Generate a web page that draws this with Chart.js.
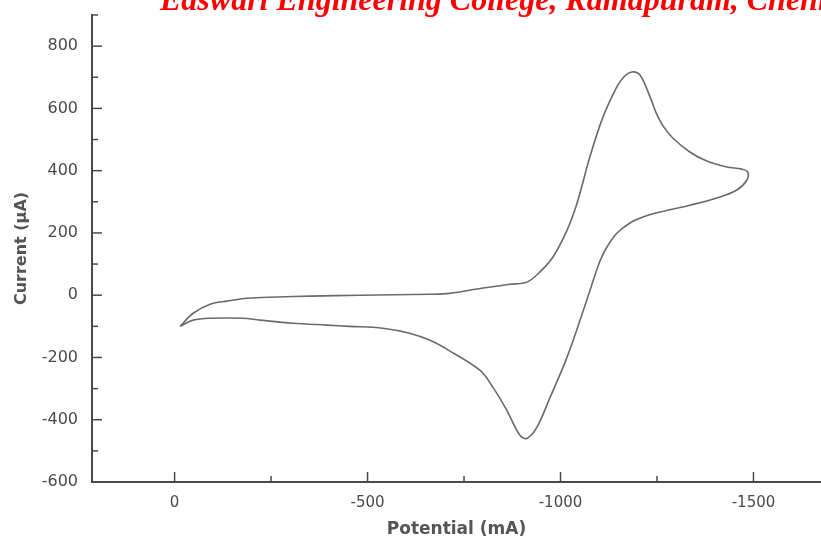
<!DOCTYPE html>
<html><head><meta charset="utf-8">
<script src="https://cdn.jsdelivr.net/npm/chart.js@4.4.1/dist/chart.umd.min.js"></script>
<style>html,body{margin:0;padding:0;background:#fff;overflow:hidden}</style>
</head><body>
<canvas id="c" width="821" height="544"></canvas>
<script>
const TITLE = 'Easwari Engineering College, Ramapuram, Chennai';
const X_TITLE = 'Potential (mA)';
const Y_TITLE = 'Current (\u00B5A)';

// Cyclic voltammogram, points in scan order
const potential = [-14,-48,-92,-136,-188,-266,-351,-481,-662,-713,-799,-869,-913,-946,-980,-1017,-1043,-1076,-1110,-1146,-1164,-1185,-1206,-1232,-1247,-1266,-1291,-1335,-1379,-1431,-1470,-1485,-1483,-1457,-1405,-1335,-1258,-1214,-1180,-1146,-1120,-1102,-1068,-1017,-973,-939,-913,-895,-861,-825,-791,-706,-662,-609,-539,-454,-395,-307,-221,-177,-92,-48,-14];
const current   = [-100,-58,-29,-19,-10,-6,-3,0,3,6,23,35,42,74,122,209,296,444,572,669,701,717,707,637,588,543,505,460,431,412,405,396,370,338,312,289,267,251,232,199,154,109,-16,-199,-328,-424,-460,-450,-370,-296,-241,-174,-145,-122,-106,-100,-96,-90,-80,-74,-74,-80,-100];

const xTicks = [0,-250,-500,-750,-1000,-1250,-1500];
const xLabeled = [0,-500,-1000,-1500];
const yTicks = [-600,-500,-400,-300,-200,-100,0,100,200,300,400,500,600,700,800,900];
const yLabeled = [-600,-400,-200,0,200,400,600,800];

const points = potential.map((p,i)=>({x:p,y:current[i]}));
const AXIS = '#4a4a4a';

const extras = {
  id:'extras',
  afterDraw(chart){
    const {ctx, chartArea:a, scales:{x,y}} = chart;
    ctx.save();
    ctx.strokeStyle = AXIS; ctx.lineWidth = 1.5;
    x.ticks.forEach(t=>{
      const px = x.getPixelForValue(t.value);
      const len = xLabeled.includes(t.value) ? 10 : 6;
      ctx.beginPath(); ctx.moveTo(px,a.bottom); ctx.lineTo(px,a.bottom-len); ctx.stroke();
    });
    y.ticks.forEach(t=>{
      const py = y.getPixelForValue(t.value);
      const len = yLabeled.includes(t.value) ? 10 : 6;
      ctx.beginPath(); ctx.moveTo(a.left,py); ctx.lineTo(a.left+len,py); ctx.stroke();
    });
    ctx.fillStyle = '#ff0000';
    ctx.font = 'bold italic 32px "Liberation Serif", "Times New Roman", serif';
    ctx.textBaseline = 'alphabetic';
    ctx.textAlign = 'left';
    ctx.fillText(TITLE, 160, 10);
    ctx.restore();
  }
};

new Chart(document.getElementById('c'), {
  type:'scatter',
  data:{datasets:[{
    data:points, showLine:true, borderColor:'#6a6a6a', borderWidth:1.6,
    pointRadius:0, tension:0.35, fill:false
  }]},
  options:{
    responsive:false, devicePixelRatio:1, animation:false,
    layout:{padding:{top:15,right:0,left:0,bottom:0}},
    plugins:{legend:{display:false}, tooltip:{enabled:false}},
    scales:{
      x:{
        type:'linear', min:-1675, max:214, reverse:true,
        afterBuildTicks:s=>{ s.ticks = xTicks.map(v=>({value:v})); },
        afterFit:s=>{ s.height = 62; s.paddingLeft = 0; s.paddingRight = 0; },
        grid:{display:false, drawTicks:false},
        border:{display:true, color:AXIS, width:2},
        ticks:{autoSkip:false, maxRotation:0, padding:12, color:'#4a4a4a',
          font:{family:'"DejaVu Sans"', size:15},
          callback:v=> xLabeled.includes(v) ? String(v) : ''},
        title:{display:true, text:X_TITLE, color:'#555',
          font:{family:'"DejaVu Sans"', size:17, weight:'bold'}, padding:{top:0,bottom:4}}
      },
      y:{
        type:'linear', min:-600, max:900,
        afterBuildTicks:s=>{ s.ticks = yTicks.map(v=>({value:v})); },
        afterFit:s=>{ s.width = 92; s.paddingTop = 0; s.paddingBottom = 0; },
        grid:{display:false, drawTicks:false},
        border:{display:true, color:AXIS, width:2},
        ticks:{autoSkip:false, padding:14, color:'#4a4a4a',
          font:{family:'"DejaVu Sans"', size:16},
          callback:v=> yLabeled.includes(v) ? String(v) : ''},
        title:{display:true, text:Y_TITLE, color:'#555',
          font:{family:'"DejaVu Sans"', size:16, weight:'bold'}, padding:{top:12,bottom:0}}
      }
    }
  },
  plugins:[extras]
});
</script>
</body></html>
